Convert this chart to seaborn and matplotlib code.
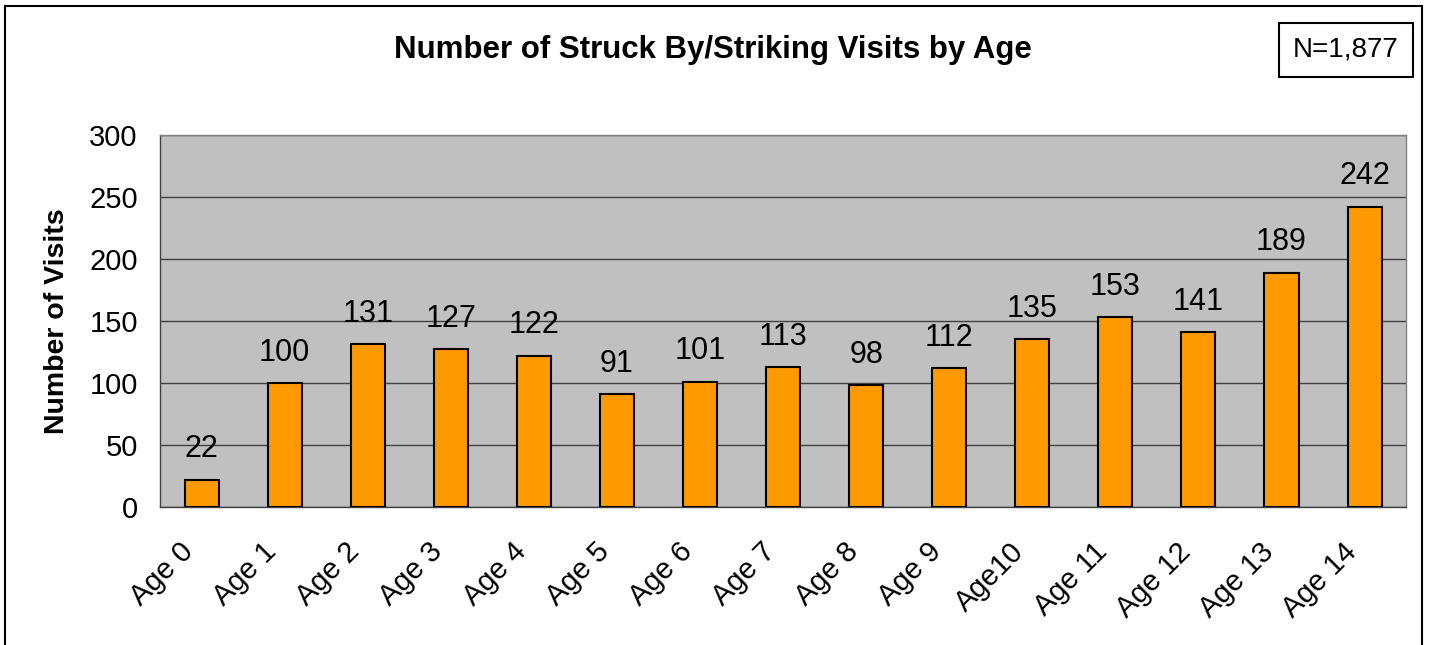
import matplotlib
matplotlib.use('Agg')
import matplotlib.pyplot as plt
from matplotlib.patches import Rectangle
from matplotlib.transforms import ScaledTranslation
import seaborn as sns

# Chart data
ages = ['Age 0', 'Age 1', 'Age 2', 'Age 3', 'Age 4', 'Age 5', 'Age 6', 'Age 7',
        'Age 8', 'Age 9', 'Age10', 'Age 11', 'Age 12', 'Age 13', 'Age 14']
visits = [22, 100, 131, 127, 122, 91, 101, 113, 98, 112, 135, 153, 141, 189, 242]
total_label = 'N=1,877'

sns.set_style('white')
plt.rcParams['font.family'] = ['Liberation Sans', 'DejaVu Sans']
plt.rcParams['text.color'] = 'black'
plt.rcParams['axes.labelcolor'] = 'black'
plt.rcParams['xtick.color'] = 'black'
plt.rcParams['ytick.color'] = 'black'

fig = plt.figure(figsize=(14.29, 6.45), dpi=100)
ax = fig.add_axes([0.112, 0.214, 0.872, 0.577])

sns.barplot(x=ages, y=visits, color='#FF9900', edgecolor='black', linewidth=1.5,
            width=0.41, saturation=1, ax=ax, zorder=3)

ax.set_facecolor('#C0C0C0')
ax.set_ylim(0, 300)
ax.set_xlim(-0.5, len(ages) - 0.5)
ax.set_yticks(range(0, 301, 50))
ax.yaxis.grid(True, color='#404040', linewidth=1, zorder=0)
ax.set_axisbelow(True)

for side in ['top', 'right']:
    ax.spines[side].set_color('#808080')
    ax.spines[side].set_linewidth(1)
for side in ['left', 'bottom']:
    ax.spines[side].set_color('#404040')
    ax.spines[side].set_linewidth(1)

# value labels
ax.bar_label(ax.containers[0], labels=[str(v) for v in visits], padding=11, fontsize=22)

# tick marks at category boundaries, labels rotated
ax.set_xticks([i - 0.5 for i in range(len(ages) + 1)], minor=True)
ax.tick_params(axis='x', which='minor', length=8, width=1, color='#404040', direction='out')
ax.tick_params(axis='x', which='major', length=0, pad=22)
ax.set_xticklabels(ages, rotation=45, ha='right', rotation_mode='anchor', fontsize=21)
shift = ScaledTranslation(-16 / 72, 0, fig.dpi_scale_trans)
for lbl in ax.get_xticklabels():
    lbl.set_transform(lbl.get_transform() + shift)
ax.tick_params(axis='y', length=8, width=1, color='#404040', direction='out', labelsize=21, pad=8)

ax.set_ylabel('Number of Visits', fontsize=20.5, fontweight='bold', labelpad=14)
ax.set_xlabel('')

fig.text(0.499, 0.923, 'Number of Struck By/Striking Visits by Age', ha='center', va='center',
         fontsize=22.5, fontweight='bold')

# N box
fig.text(0.942, 0.923, total_label, ha='center', va='center', fontsize=20,
         bbox=dict(boxstyle='square,pad=0.5', facecolor='white', edgecolor='black', linewidth=1.5))

# outer border (bottom edge off-canvas)
fig.patches.append(Rectangle((0.0035, -0.05), 0.9915, 1.04, transform=fig.transFigure,
                             fill=False, edgecolor='black', linewidth=1.5))

fig.savefig('out.png', dpi=100)
